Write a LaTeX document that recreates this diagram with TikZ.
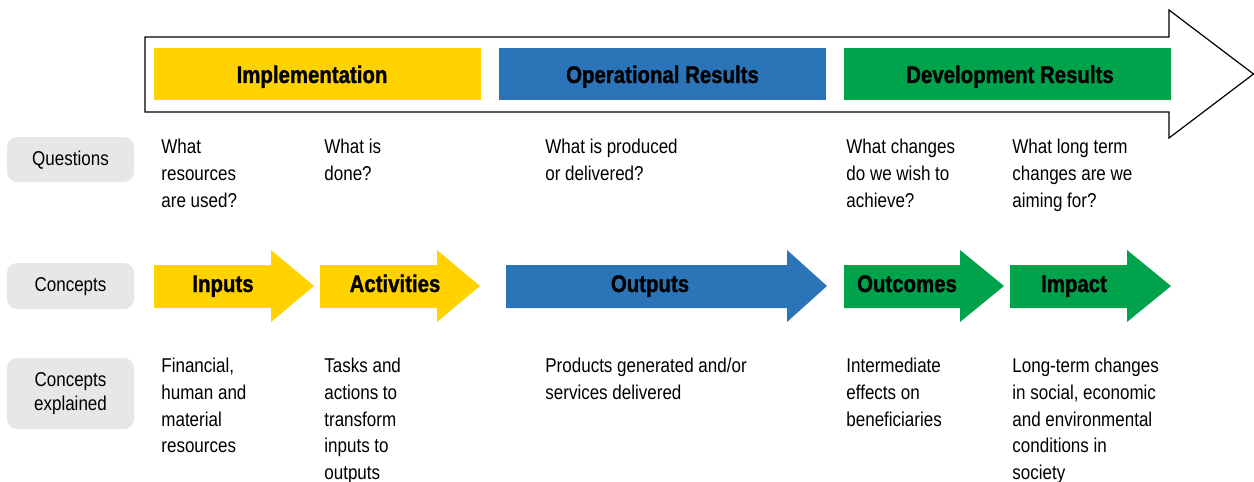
\documentclass[tikz,border=0pt]{standalone}
\usepackage{fontspec}
\setmainfont{Liberation Sans}[FakeStretch=0.85,BoldFeatures={FakeBold=1.2}]
\definecolor{implyellow}{HTML}{FFD200}
\definecolor{opblue}{HTML}{2B74B7}
\definecolor{devgreen}{HTML}{00A24C}
\definecolor{pillgray}{HTML}{E6E7E8}
\begin{document}
\begin{tikzpicture}[x=0.5pt,y=-0.5pt,
    pill/.style={fill=pillgray,rounded corners=5pt,minimum width=63.5pt,
                 align=center,inner sep=0pt,font=\fontsize{10}{11.7}\selectfont},
    bar/.style={minimum width=163.5pt,minimum height=26pt,inner sep=0pt},
    head/.style={font=\fontsize{12}{14}\selectfont\bfseries,anchor=base},
    txt/.style={anchor=north west,align=left,inner sep=0pt,
                font=\fontsize{10}{13.35}\selectfont}]

\useasboundingbox (0,0) rectangle (1254,482);

% big outlined arrow
\draw[line width=0.6pt] (145,37) -- (1169,37) -- (1169,10) -- (1253.5,74)
    -- (1169,138) -- (1169,112) -- (145,112) -- cycle;

\node[bar,fill=implyellow] (impl) at (317.5,74) {};
\node[bar,fill=opblue] (oper) at (662.5,74) {};
\node[bar,fill=devgreen] (dev) at (1007.5,74) {};
\node[head] at (312,83) {Implementation};
\node[head] at (662.5,83) {Operational Results};
\node[head] at (1010,83) {Development Results};

% row labels
\node[pill,minimum height=22.5pt,text depth=1pt] (questions) at (70.5,159.5) {Questions};
\node[pill,minimum height=23pt,text depth=1pt] (concepts) at (70.5,286) {Concepts};
\node[pill,minimum height=35.5pt] (explained) at (70.5,393.5) {Concepts\\explained};

% concept arrows
\foreach \s/\h/\t/\col in {154/271/314/implyellow, 320/437/480/implyellow,
        506/787/827/opblue, 844/960/1004/devgreen, 1010/1127/1171/devgreen}
  \fill[\col] (\s,265) -- (\h,265) -- (\h,250) -- (\t,286) -- (\h,322)
      -- (\h,308) -- (\s,308) -- cycle;

\node[head] (inputs) at (223,292) {Inputs};
\node[head] (activities) at (395,292) {Activities};
\node[head] (outputs) at (650,292) {Outputs};
\node[head] (outcomes) at (907,292) {Outcomes};
\node[head] (impact) at (1074,292) {Impact};

% questions
\node[txt] (q1) at (161,139) {What\\resources\\are used?};
\node[txt] (q2) at (324,139) {What is\\done?};
\node[txt] (q3) at (545,139) {What is produced\\or delivered?};
\node[txt] (q4) at (846,139) {What changes\\do we wish to\\achieve?};
\node[txt] (q5) at (1012,139) {What long term\\changes are we\\aiming for?};

% explanations
\node[txt] (e1) at (161,358) {Financial,\\human and\\material\\resources};
\node[txt] (e2) at (324,358) {Tasks and\\actions to\\transform\\inputs to\\outputs};
\node[txt] (e3) at (545,358) {Products generated and/or\\services delivered};
\node[txt] (e4) at (846,358) {Intermediate\\effects on\\beneficiaries};
\node[txt] (e5) at (1012,358) {Long-term changes\\in social, economic\\and environmental\\conditions in\\society};

\end{tikzpicture}
\end{document}
